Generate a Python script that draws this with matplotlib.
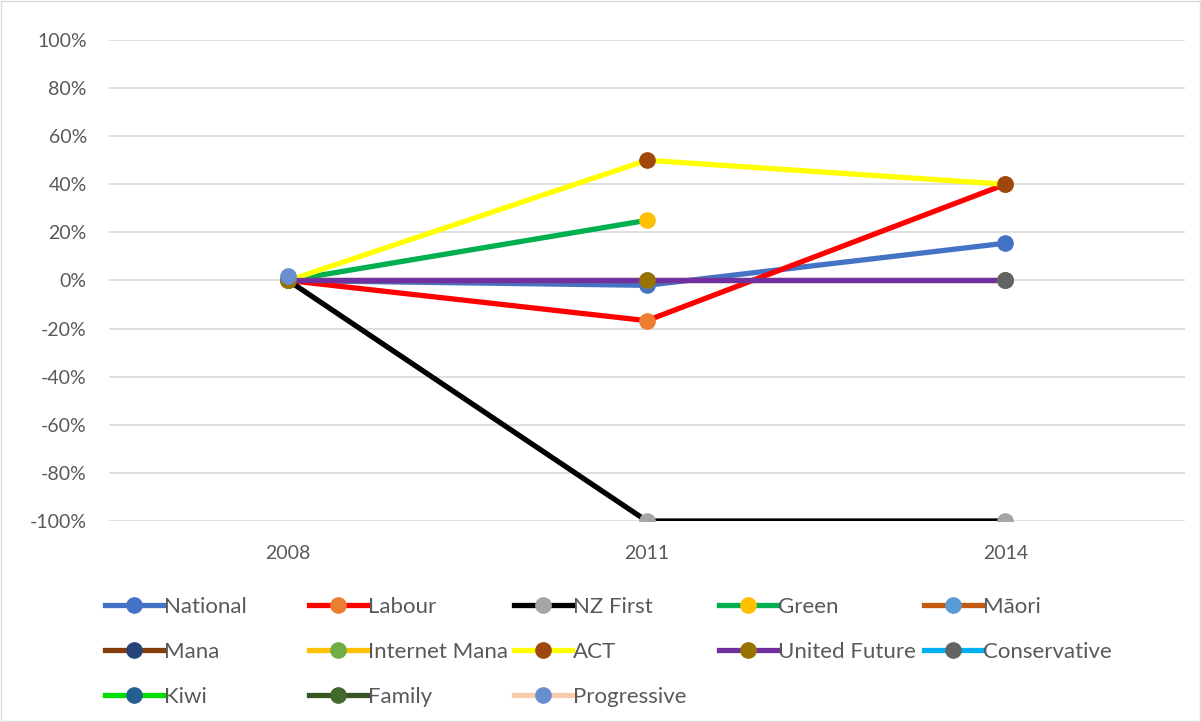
import numpy as np
import matplotlib
matplotlib.use('Agg')
import matplotlib.pyplot as plt
from matplotlib.ticker import FuncFormatter
from matplotlib.patches import Rectangle

nan = np.nan

# Election years on the category axis
years = ['2008', '2011', '2014']

# Percent change per party (NaN = no data)
national = [0.0, -0.02, 0.155]
labour = [0.0, -0.167, 0.40]
nz_first = [0.0, -1.0, -1.0]
green = [0.0, 0.25, nan]
maori = [0.0, 0.0, 0.0]
mana = [nan, nan, nan]
internet_mana = [nan, nan, nan]
act = [0.0, 0.50, 0.40]
united_future = [0.0, 0.0, 0.0]
conservative = [nan, nan, 0.0]
kiwi = [nan, nan, nan]
family = [nan, nan, nan]
progressive = [0.02, nan, nan]

# name, values, line colour, marker colour
series = [
    ('National', national, '#4472C4', '#4472C4'),
    ('Labour', labour, '#FF0000', '#ED7D31'),
    ('NZ First', nz_first, '#000000', '#A5A5A5'),
    ('Green', green, '#00B050', '#FFC000'),
    ('Māori', maori, '#C55A11', '#5B9BD5'),
    ('Mana', mana, '#843C0C', '#264478'),
    ('Internet Mana', internet_mana, '#FFC000', '#70AD47'),
    ('ACT', act, '#FFFF00', '#9E480E'),
    ('United Future', united_future, '#7030A0', '#997300'),
    ('Conservative', conservative, '#00B0F0', '#636363'),
    ('Kiwi', kiwi, '#00DD00', '#255E91'),
    ('Family', family, '#375623', '#43682B'),
    ('Progressive', progressive, '#F8CBAD', '#698ED0'),
]

plt.rcParams['font.family'] = ['Lato', 'DejaVu Sans']
txt = '#595959'

fig = plt.figure(figsize=(12.01, 7.22), dpi=100)
ax = fig.add_axes([0.0908, 0.2784, 0.8955, 0.6662])

x = np.arange(len(years))
handles = []
for name, vals, lc, mc in series:
    h, = ax.plot(x, vals, color=lc, linewidth=3.8, marker='o', markersize=11,
                 markerfacecolor=mc, markeredgecolor=mc, label=name, zorder=3)
    handles.append(h)

ax.set_xlim(-0.5, 2.5)
ax.set_ylim(-1.0, 1.0)
ax.set_yticks(np.round(np.arange(-1.0, 1.01, 0.2), 2))
ax.yaxis.set_major_formatter(FuncFormatter(lambda v, p: '%d%%' % round(v * 100)))
ax.set_xticks(x)
ax.set_xticklabels(years)
ax.grid(axis='y', color='#D9D9D9', linewidth=1.2, zorder=0)
for s in ax.spines.values():
    s.set_visible(False)
ax.tick_params(length=0, labelsize=14, labelcolor=txt)
ax.tick_params(axis='x', pad=17)
ax.tick_params(axis='y', pad=16)

# legend: 5 columns laid out row by row like the original
col_x = [105, 309, 514, 719, 924]
for c in range(5):
    hs = handles[c::5]
    leg = fig.legend(handles=hs, labels=[h.get_label() for h in hs],
                     loc='upper left', bbox_to_anchor=(col_x[c] / 1201, 0.173),
                     frameon=False, fontsize=16, labelcolor=txt,
                     handlelength=2.6, handletextpad=0.05, labelspacing=1.12,
                     borderpad=0, borderaxespad=0)

fig.patches.append(Rectangle((0.001, 0.001), 0.998, 0.997, transform=fig.transFigure,
                             fill=False, edgecolor='#D9D9D9', linewidth=1))

fig.savefig('out.png', dpi=100)
